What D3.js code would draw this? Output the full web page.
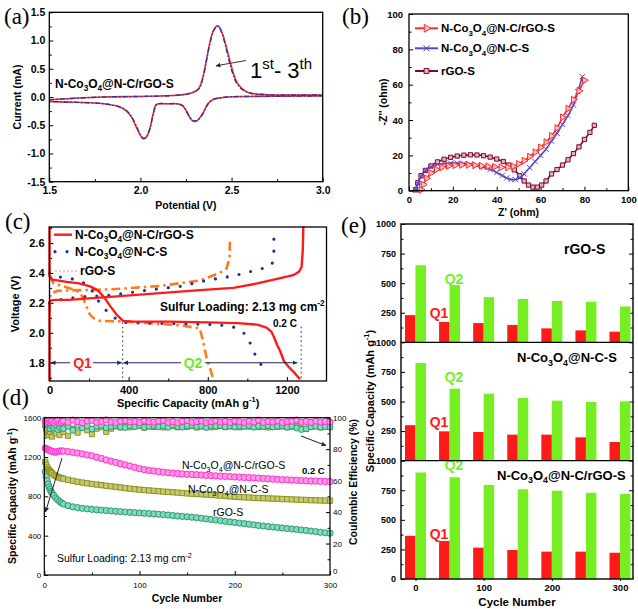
<!DOCTYPE html>
<html><head><meta charset="utf-8">
<script src="https://cdn.jsdelivr.net/npm/d3@7"></script>
<style>
body{margin:0;background:#fff}
svg{display:block}
text{font-family:"Liberation Sans",Arial,sans-serif}
.serif{font-family:"Liberation Serif","Times New Roman",serif}
</style>
</head><body><svg id="c" width="638" height="609"></svg>
<script>
// ---------------- DATA ----------------
// (a) CV
const cvCathV = [3.0,2.8,2.6,2.5,2.45,2.40,2.37,2.34,2.31,2.29,2.27,2.25,2.23,2.20,2.15,2.10,2.085,2.07,2.05,2.03,2.015,2.00,1.98,1.95,1.92,1.88,1.80,1.70,1.60,1.50];
const cvCathI1 = [0.02,0.015,0.01,0.005,-0.01,-0.04,-0.12,-0.30,-0.42,-0.43,-0.36,-0.24,-0.15,-0.12,-0.12,-0.12,-0.14,-0.30,-0.58,-0.72,-0.74,-0.68,-0.55,-0.35,-0.24,-0.17,-0.12,-0.10,-0.09,-0.08];
const cvCathI2 = [0.02,0.015,0.01,0.004,-0.012,-0.045,-0.13,-0.31,-0.42,-0.42,-0.35,-0.23,-0.15,-0.12,-0.12,-0.12,-0.15,-0.31,-0.58,-0.72,-0.73,-0.67,-0.53,-0.34,-0.23,-0.17,-0.12,-0.10,-0.09,-0.08];
const cvAnodV = [1.5,1.6,1.8,2.0,2.2,2.28,2.32,2.34,2.36,2.38,2.40,2.42,2.43,2.45,2.47,2.49,2.51,2.53,2.56,2.60,2.70,2.85,3.0];
const cvAnodI1 = [-0.05,-0.03,0.0,0.01,0.03,0.07,0.15,0.32,0.62,0.95,1.17,1.26,1.25,1.12,0.90,0.65,0.42,0.26,0.14,0.07,0.04,0.035,0.035];
const cvAnodI2 = [-0.05,-0.03,0.0,0.01,0.03,0.07,0.14,0.30,0.60,0.93,1.16,1.25,1.24,1.10,0.86,0.60,0.38,0.23,0.13,0.07,0.04,0.035,0.035];
const aXTicks = [1.5,2.0,2.5,3.0];
const aYTicks = [-1.5,-1.0,-0.5,0.0,0.5,1.0,1.5];

// (b) EIS
const bRedZre = [5.5,6.5,8,10,12.5,15,18,21,24,27,30,33,36,39,42,45,47.5,50,52.5,55,57.5,60,62.5,65,67.5,70,72.5,75,77.5,80];
const bRedZim = [0.5,3.5,7,10,12,13.3,14,14.4,14.6,14.6,14.4,14.1,13.8,13.5,13.2,13.2,13.8,15.2,17,19.3,21.8,24.5,27.5,31,35.5,41.5,46.5,51.5,56.5,62.5];
const bBlueZre = [3,4,5.5,7.5,10,13,16,19,22,25,28,31,34,37,40,42.5,44.5,46.5,48.5,50.5,52.5,55,57.5,60,62.5,65,67.5,70,72.5,75,77,79];
const bBlueZim = [0.3,4,8,11.3,13.5,14.8,15.4,15.6,15.6,15.4,15,14.3,13.3,12,10.3,8.6,7.2,6.3,6.3,7.3,9.5,13,16.5,20,23.5,28,32.5,37.5,42.5,48.5,56,64.5];
const bMarZre = [3,4,5.5,7.5,10,13,16,19,22,25,28,31,34,37,40,43,45.5,48,50.5,52.5,54.5,56.5,58.5,60.5,62.5,65,67.5,70,72.5,75,77.5,80,82.5,84.5];
const bMarZim = [0.5,4.5,8.5,11.5,14,16.3,17.8,18.9,19.6,20.1,20.3,20.2,19.8,19,17.9,16.5,14.5,11.8,8.5,5.5,3.2,2,2,3.2,5.5,9.5,12,14.5,17.5,21,24.8,29,33,37];
const bTicks = [0,20,40,60,80,100];

// (c) charge / discharge
const cRedDisCap = [0,0,15,87,150,205,235,255,280,306,340,372,420,600,800,950,1050,1097,1120,1135,1150,1165,1185,1210,1240,1266];
const cRedDisV   = [2.71,2.38,2.355,2.34,2.33,2.31,2.29,2.27,2.23,2.18,2.12,2.08,2.075,2.075,2.07,2.065,2.055,2.035,2.01,1.97,1.92,1.88,1.81,1.77,1.73,1.69];
const cRedChgCap = [0,0,3,30,100,200,306,558,760,929,1050,1150,1232,1262,1274,1280,1283];
const cRedChgV   = [1.68,2.19,2.215,2.22,2.22,2.23,2.24,2.265,2.285,2.30,2.33,2.36,2.385,2.41,2.44,2.55,2.71];
const cBlueDisCap = [0,20,129,180,213,255,306,365,500,700,850,937,997,1022,1047,1089];
const cBlueDisV   = [2.40,2.38,2.357,2.33,2.286,2.197,2.12,2.07,2.065,2.06,2.055,2.036,1.985,1.907,1.83,1.75];
const cBlueChgCap = [0,50,150,306,524,659,794,929,1047,1105,1125,1134,1134,1134];
const cBlueChgV   = [2.20,2.22,2.24,2.25,2.29,2.31,2.35,2.38,2.42,2.44,2.46,2.52,2.59,2.67];
const cOrDisCap = [0,20,70,120,154,180,205,230,255,400,550,659,760,777,794,812,828];
const cOrDisV   = [2.38,2.33,2.31,2.29,2.27,2.20,2.12,2.09,2.08,2.075,2.06,2.05,2.03,1.94,1.83,1.76,1.69];
const cOrChgCap = [0,5,40,150,306,558,760,860,895,910,912];
const cOrChgV   = [2.15,2.26,2.28,2.285,2.29,2.313,2.35,2.40,2.43,2.50,2.63];
const cXTicks = [0,400,800,1200];
const cYTicks = [1.8,2.0,2.2,2.4,2.6];
const cQ1Cap = 370, cQ2Cap = 1272;

// (d) cycling
const dCycles = [1,2,3,4,5,6,7,8,10,12,14,16,18,20,25,30,35,40,45,50,55,60,65,70,75,80,85,90,95,100,105,110,115,120,125,130,135,140,145,150,155,160,165,170,175,180,185,190,195,200,205,210,215,220,225,230,235,240,245,250,255,260,265,270,275,280,285,290,295,300];
const dCapRGONC = [1290,1285,1280,1275,1270,1265,1262,1258,1252,1250,1255,1260,1262,1260,1255,1248,1240,1232,1222,1212,1198,1185,1170,1158,1145,1132,1120,1108,1095,1082,1072,1064,1058,1052,1046,1040,1036,1032,1028,1025,1022,1020,1017,1014,1011,1008,1005,1003,1001,998,995,993,990,988,985,982,979,976,973,970,968,965,963,960,958,956,955,953,952,950];
const dCapNC = [1150,1120,1095,1075,1065,1055,1045,1035,1020,1008,998,990,985,980,968,958,948,940,933,926,920,914,908,902,896,890,884,878,873,868,864,860,856,852,848,845,842,838,834,830,827,824,821,818,815,812,808,804,800,796,793,790,788,785,783,781,779,777,775,773,771,769,767,765,763,761,760,758,757,756];
const dCapRGO = [1050,1000,960,925,895,870,850,835,810,785,765,748,735,722,705,693,685,678,673,668,664,660,656,652,648,645,641,637,634,631,628,625,621,618,614,610,605,600,596,592,588,583,577,571,565,559,553,546,540,534,528,522,516,510,504,498,493,488,483,478,473,468,463,458,453,447,441,435,430,425];
const dCERGONC = [97.5,96.8,97.9,97.2,98.3,96.9,97.6,98.1,97.0,97.8,98.4,96.7,97.3,98.0,97.1,98.5,97.4,96.8,97.9,98.2,97.0,97.6,98.6,97.2,96.9,97.8,98.1,97.3,97.7,96.9,98.0,97.4,97.1,97.9,98.3,97.0,97.5,96.8,97.7,98.2,97.1,97.6,97.9,96.9,97.4,98.1,97.2,97.7,97.0,98.0,97.5,96.9,97.8,97.2,98.4,97.0,97.6,97.3,98.0,96.9,97.5,97.8,98.5,97.1,97.6,97.0,97.9,97.3,97.6,97.2];
const dCENC = [95.0,93.0,92.0,90.0,89.0,91.0,93.0,88.0,92.0,90.0,94.0,89.0,93.0,91.0,88.5,93.0,90.5,94.0,92.0,89.5,93.0,94.0,91.0,93.0,94.5,93.8,94.6,93.9,94.4,94.8,93.7,94.5,94.1,94.9,93.8,94.3,94.7,93.9,94.5,94.2,94.8,93.8,94.4,94.6,93.9,94.3,94.8,94.0,94.5,94.2,93.9,94.6,94.3,94.8,94.0,94.4,93.8,94.7,94.2,94.5,93.9,94.3,94.6,93.2,92.8,94.1,94.5,93.8,94.2,94.0];
const dCERGO = [98.5,97.5,96.5,95.5,94.0,93.0,95.5,94.5,93.5,95.0,92.5,94.0,95.5,93.0,94.5,92.0,95.0,93.5,94.8,92.8,94.6,95.2,93.6,94.4,95.0,94.1,93.8,94.9,94.3,95.1,93.9,94.6,95.0,94.2,94.7,93.9,95.2,94.4,94.0,94.8,95.1,94.3,94.6,93.8,94.9,94.5,95.0,94.2,94.7,94.1,94.8,94.4,95.0,94.0,94.6,94.3,94.9,94.1,94.5,94.8,94.0,94.6,93.5,92.5,93.0,94.2,94.6,94.0,94.4,94.1];
const dXTicks = [0,100,200,300];
const dYTicks = [0,400,800,1200,1600];
const dCETicks = [0,20,40,60,80,100];

// (e) Q1 / Q2 bars
const eCycles = [0,50,100,150,200,250,300];
const eQ1RGO = [230,172,163,147,118,101,90];
const eQ2RGO = [652,483,382,366,349,343,303];
const eQ1NC = [300,248,242,220,220,197,158];
const eQ2NC = [825,609,566,530,507,496,501];
const eQ1RGONC = [365,321,265,245,231,231,222];
const eQ2RGONC = [900,860,795,758,746,729,718];
const eXTicks = [0,100,200,300];
const eYTicks = [250,500,750,1000];

// ---------------- HELPERS ----------------
const svg = d3.select('#c');
const defs = svg.append('defs');
function marker(id, color){
  defs.append('marker').attr('id',id).attr('viewBox','0 0 10 10').attr('refX',9).attr('refY',5)
    .attr('markerWidth',5).attr('markerHeight',5).attr('orient','auto-start-reverse')
    .append('path').attr('d','M0,0.5 L10,5 L0,9.5 z').attr('fill',color);
}
marker('arrK','#222'); marker('arrN','#1d2b5a');

function axis(gen, tr, ticks, fmt, size, fs, fw, pad){
  const g = svg.append('g').attr('transform',tr)
    .call(gen.tickValues(ticks).tickSize(size).tickFormat(fmt).tickPadding(pad));
  g.select('.domain').remove();
  g.selectAll('line').attr('stroke','#000').attr('stroke-width',1);
  g.selectAll('text').attr('font-size',fs).attr('font-weight',fw).attr('fill','#000');
  return g;
}
function frame(x0,y0,x1,y1,w){
  svg.append('rect').attr('x',x0).attr('y',y0).attr('width',x1-x0).attr('height',y1-y0)
    .attr('fill','none').attr('stroke','#000').attr('stroke-width',w||1.3);
}
function rich(x,y,parts,attrs){
  const t = svg.append('text').attr('x',x).attr('y',y);
  Object.entries(attrs).forEach(([k,v])=>t.attr(k,v));
  const fs = attrs['font-size'];
  let shift = 0;
  parts.forEach(p=>{
    const s = Array.isArray(p)?p[0]:p, m = Array.isArray(p)?p[1]:'';
    const want = m==='sub'?0.28:(m==='sup'?-0.42:0);
    const ts = t.append('tspan').text(s);
    const dy = (want-shift)*fs;
    if (Math.abs(dy)>0.001) ts.attr('dy',dy.toFixed(2));
    if (m) ts.attr('font-size',fs*0.68);
    shift = want;
  });
  return t;
}
const f1 = d=>d.toFixed(1);
const f0 = d=>String(d);
const zip = (a,b)=>a.map((v,i)=>[v,b[i]]);
function panelLabel(x,y,s){ svg.append('text').attr('class','serif').attr('x',x).attr('y',y).attr('font-size',23).text(s); }
function nameParts(tail){ return [['N-Co',''],['3','sub'],['O',''],['4','sub'],[tail,'']]; }

// ---------------- (a) ----------------
{
  const x = d3.scaleLinear([1.5,3.0],[49.3,322.7]);
  const y = d3.scaleLinear([-1.5,1.5],[181.7,12.3]);
  axis(d3.axisBottom(x),'translate(0,181.7)',aXTicks,f1,-4,10.5,'bold',5);
  axis(d3.axisBottom(x),'translate(0,181.7)',[1.75,2.25,2.75],()=>'',-2.5,10,'bold',5);
  axis(d3.axisLeft(y),'translate(49.3,0)',aYTicks,f1,-4,10.5,'bold',4);
  axis(d3.axisLeft(y),'translate(49.3,0)',[-1.25,-0.75,-0.25,0.25,0.75,1.25],()=>'',-2.5,10,'bold',4);
  const ln = d3.line().x(d=>x(d[0])).y(d=>y(d[1])).curve(d3.curveCatmullRom);
  [[cvCathI1,cvAnodI1,'#ff2a2a',null,1.6],[cvCathI2,cvAnodI2,'#2a35a0','5 2 1.5 2',1.4]].forEach(([c,a,col,da,w])=>{
    [zip(cvCathV,c),zip(cvAnodV,a)].forEach(d=>{
      svg.append('path').attr('d',ln(d)).attr('fill','none').attr('stroke',col).attr('stroke-width',w)
        .attr('stroke-dasharray',da);
    });
  });
  frame(49.3,12.3,322.7,181.7);
  svg.append('text').attr('x',-97).attr('y',21).attr('transform','rotate(-90)').attr('text-anchor','middle')
    .attr('font-size',10.5).attr('font-weight','bold').text('Current (mA)');
  svg.append('text').attr('x',186).attr('y',209).attr('text-anchor','middle')
    .attr('font-size',10.5).attr('font-weight','bold').text('Potential (V)');
  rich(55,87.5,nameParts('@N-C/rGO-S'),{'font-size':12,'font-weight':'bold'});
  rich(250,78,[['1',''],['st','sup'],['- 3',''],['th','sup']],{'font-size':22});
  svg.append('line').attr('x1',246).attr('y1',60.5).attr('x2',216).attr('y2',65.8)
    .attr('stroke','#333').attr('stroke-width',1).attr('marker-end','url(#arrK)');
  panelLabel(4,24,'(a)');
}

// ---------------- (b) ----------------
{
  const x = d3.scaleLinear([0,100],[409,628.3]);
  const y = d3.scaleLinear([0,100],[190.7,14]);
  axis(d3.axisBottom(x),'translate(0,190.7)',bTicks,f0,-4,9.5,'bold',6);
  axis(d3.axisBottom(x),'translate(0,190.7)',[10,30,50,70,90],()=>'',-2.5,9,'bold',5);
  axis(d3.axisLeft(y),'translate(409,0)',bTicks,f0,-4,9.5,'bold',6);
  axis(d3.axisLeft(y),'translate(409,0)',[10,30,50,70,90],()=>'',-2.5,9,'bold',5);
  const ln = d3.line().x(d=>x(d[0])).y(d=>y(d[1])).curve(d3.curveCatmullRom);
  const series = [
    {zr:bMarZre, zi:bMarZim, col:'#7a0a2a', fill:'#e8b0c0', sym:d3.symbolSquare, rot:0, size:18},
    {zr:bBlueZre, zi:bBlueZim, col:'#5b46c8', fill:'none', sym:d3.symbolTimes, rot:0, size:20},
    {zr:bRedZre, zi:bRedZim, col:'#ff2a2a', fill:'#ffc0c0', sym:d3.symbolTriangle, rot:90, size:20}
  ];
  series.forEach(s=>{
    const d = zip(s.zr,s.zi);
    svg.append('path').attr('d',ln(d)).attr('fill','none').attr('stroke',s.col).attr('stroke-width',1.6);
    svg.append('g').selectAll('path').data(d).join('path')
      .attr('d',d3.symbol(s.sym,s.size)())
      .attr('transform',p=>`translate(${x(p[0])},${y(p[1])}) rotate(${s.rot})`)
      .attr('fill',s.fill).attr('stroke',s.col).attr('stroke-width',1);
  });
  frame(409,14,628.3,190.7);
  const leg = [
    {yy:28.3, s:series[2], txt:nameParts('@N-C/rGO-S')},
    {yy:48.3, s:series[1], txt:nameParts('@N-C-S')},
    {yy:71, s:series[0], txt:[['rGO-S','']]}
  ];
  leg.forEach(l=>{
    svg.append('line').attr('x1',415).attr('x2',438).attr('y1',l.yy).attr('y2',l.yy).attr('stroke',l.s.col).attr('stroke-width',2);
    svg.append('path').attr('d',d3.symbol(l.s.sym,l.s.size+6)()).attr('transform',`translate(426.5,${l.yy}) rotate(${l.s.rot})`)
      .attr('fill',l.s.fill).attr('stroke',l.s.col).attr('stroke-width',1);
    rich(441,l.yy+4,l.txt,{'font-size':11.5,'font-weight':'bold'});
  });
  svg.append('text').attr('x',518.5).attr('y',216).attr('text-anchor','middle')
    .attr('font-size',10.5).attr('font-weight','bold').text("Z' (ohm)");
  svg.append('text').attr('x',-102).attr('y',387).attr('transform','rotate(-90)').attr('text-anchor','middle')
    .attr('font-size',10.5).attr('font-weight','bold').text("-Z'' (ohm)");
  panelLabel(342,24,'(b)');
}

// ---------------- (c) ----------------
{
  const x = d3.scaleLinear([0,1400],[49.5,326.5]);
  const y = d3.scaleLinear([1.678,2.707],[381,227]);
  axis(d3.axisBottom(x),'translate(0,381)',cXTicks,f0,-4,11,'bold',5);
  axis(d3.axisBottom(x),'translate(0,381)',[200,600,1000],()=>'',-2.5,10,'bold',5);
  axis(d3.axisLeft(y),'translate(49.5,0)',cYTicks,f1,-4,11,'bold',5);
  axis(d3.axisLeft(y),'translate(49.5,0)',[1.7,1.9,2.1,2.3,2.5,2.7],()=>'',-2.5,10,'bold',5);
  const ln = d3.line().x(d=>x(d[0])).y(d=>y(d[1])).curve(d3.curveLinear);
  svg.append('line').attr('x1',x(cQ1Cap)).attr('x2',x(cQ1Cap)).attr('y1',y(2.07)).attr('y2',381)
    .attr('stroke','#222').attr('stroke-width',1).attr('stroke-dasharray','1.5 3');
  svg.append('line').attr('x1',x(cQ2Cap)).attr('x2',x(cQ2Cap)).attr('y1',y(2.04)).attr('y2',381)
    .attr('stroke','#222').attr('stroke-width',1).attr('stroke-dasharray','1.5 3');
  [zip(cOrDisCap,cOrDisV),zip(cOrChgCap,cOrChgV)].forEach(d=>{
    svg.append('path').attr('d',ln(d)).attr('fill','none').attr('stroke','#ff7a1f').attr('stroke-width',2.6)
      .attr('stroke-dasharray','9 4 2.5 4');
  });
  [zip(cBlueDisCap,cBlueDisV),zip(cBlueChgCap,cBlueChgV)].forEach(d=>{
    svg.append('path').attr('d',ln(d)).attr('fill','none').attr('stroke','#1f2fa0').attr('stroke-width',3.2)
      .attr('stroke-linecap','round').attr('stroke-dasharray','0 12');
  });
  [zip(cRedDisCap,cRedDisV),zip(cRedChgCap,cRedChgV)].forEach(d=>{
    svg.append('path').attr('d',ln(d)).attr('fill','none').attr('stroke','#ff1a1a').attr('stroke-width',2.4)
      .attr('stroke-linejoin','round');
  });
  frame(49.5,227,326.5,381);
  const yq = y(1.8);
  const arr = (x1,x2)=>svg.append('line').attr('x1',x1).attr('x2',x2).attr('y1',yq).attr('y2',yq)
    .attr('stroke','#1d2b5a').attr('stroke-width',1).attr('marker-end','url(#arrN)');
  arr(70,51); arr(93,x(cQ1Cap)-1); arr(181,x(cQ1Cap)+1); arr(205,x(cQ2Cap)-4);
  svg.append('text').attr('x',82.5).attr('y',yq+5).attr('text-anchor','middle').attr('font-size',14)
    .attr('font-weight','bold').attr('fill','#ff2020').text('Q1');
  svg.append('text').attr('x',193).attr('y',yq+5).attr('text-anchor','middle').attr('font-size',14)
    .attr('font-weight','bold').attr('fill','#6fe62a').text('Q2');
  svg.append('line').attr('x1',54).attr('x2',72).attr('y1',234.7).attr('y2',234.7).attr('stroke','#ff1a1a').attr('stroke-width',2.4);
  rich(75,239,nameParts('@N-C/rGO-S'),{'font-size':12,'font-weight':'bold'});
  svg.append('line').attr('x1',55).attr('x2',72).attr('y1',251.7).attr('y2',251.7).attr('stroke','#1f2fa0')
    .attr('stroke-width',3.2).attr('stroke-linecap','round').attr('stroke-dasharray','0 12');
  rich(75,256,nameParts('@N-C-S'),{'font-size':12,'font-weight':'bold'});
  svg.append('line').attr('x1',55).attr('x2',78).attr('y1',271).attr('y2',271).attr('stroke','#ff8a8a')
    .attr('stroke-width',1).attr('stroke-dasharray','2 2');
  svg.append('text').attr('x',80).attr('y',275).attr('font-size',12).attr('font-weight','bold').text('rGO-S');
  rich(160,311,[['Sulfur Loading: 2.13 mg cm',''],['-2','sup']],{'font-size':12,'font-weight':'bold'});
  svg.append('text').attr('x',273).attr('y',326.5).attr('font-size',10).attr('font-weight','bold').text('0.2 C');
  svg.append('text').attr('x',-304).attr('y',19).attr('transform','rotate(-90)').attr('text-anchor','middle')
    .attr('font-size',11).attr('font-weight','bold').text('Voltage (V)');
  rich(117,407,[['Specific Capacity (mAh g',''],['-1','sup'],[')','']],{'font-size':11,'font-weight':'bold'});
  panelLabel(5,229,'(c)');
}

// ---------------- (d) ----------------
{
  const x = d3.scaleLinear([0,300],[44.3,330]);
  const y = d3.scaleLinear([0,1600],[575,417.7]);
  const yr = d3.scaleLinear([0,100],[575,417.7]);
  axis(d3.axisBottom(x),'translate(0,575)',dXTicks,f0,-4,8,'normal',7);
  axis(d3.axisBottom(x),'translate(0,575)',[50,150,250],()=>'',-2.5,8,'normal',5);
  axis(d3.axisLeft(y),'translate(44.3,0)',dYTicks,f0,-4,8,'normal',3);
  axis(d3.axisLeft(y),'translate(44.3,0)',[200,600,1000,1400],()=>'',-2.5,8,'normal',3);
  axis(d3.axisRight(yr),'translate(330,0)',dCETicks.filter(v=>v>0),f0,-4,8,'normal',3);
  axis(d3.axisRight(yr),'translate(330,0)',[10,30,50,70,90],()=>'',-2.5,8,'normal',3);
  svg.append('text').attr('x',333).attr('y',574).attr('font-size',8).text(f0(dCETicks[0]));
  const sets = [
    {v:dCENC, sc:yr, col:'#8a9420', fill:'#c9c870', sym:d3.symbolSquare, size:26},
    {v:dCERGO, sc:yr, col:'#259a74', fill:'#86d9b8', sym:d3.symbolCircle, size:28},
    {v:dCERGONC, sc:yr, col:'#ff30cc', fill:'#ff99e6', sym:d3.symbolCircle, size:30},
    {v:dCapRGO, sc:y, col:'#259a74', fill:'#86d9b8', sym:d3.symbolCircle, size:30},
    {v:dCapNC, sc:y, col:'#8a9420', fill:'#c9c870', sym:d3.symbolSquare, size:28},
    {v:dCapRGONC, sc:y, col:'#ff30cc', fill:'#ff99e6', sym:d3.symbolCircle, size:32}
  ];
  sets.forEach(s=>{
    const d = zip(dCycles,s.v);
    svg.append('g').selectAll('path').data(d).join('path')
      .attr('d',d3.symbol(s.sym,s.size)())
      .attr('transform',p=>`translate(${x(p[0])},${s.sc(p[1])})`)
      .attr('fill',s.fill).attr('stroke',s.col).attr('stroke-width',1);
  });
  frame(44.3,417.7,330,575,1.2);
  svg.append('line').attr('x1',62).attr('y1',458).attr('x2',45.5).attr('y2',512)
    .attr('stroke','#222').attr('stroke-width',1).attr('marker-end','url(#arrK)');
  svg.append('line').attr('x1',301).attr('y1',436).attr('x2',326).attr('y2',445.5)
    .attr('stroke','#222').attr('stroke-width',1).attr('marker-end','url(#arrK)');
  rich(182,469,nameParts('@N-C/rGO-S'),{'font-size':10.5});
  rich(188,493,nameParts('@N-C-S'),{'font-size':10.5});
  svg.append('text').attr('x',213).attr('y',515.5).attr('font-size',10.5).text('rGO-S');
  svg.append('text').attr('x',302).attr('y',474).attr('font-size',9.5).attr('font-weight','bold').text('0.2 C');
  rich(57,562,[['Sulfur Loading: 2.13 mg cm',''],['-2','sup']],{'font-size':10.5});
  svg.append('text').attr('x',187).attr('y',602).attr('text-anchor','middle')
    .attr('font-size',10.5).attr('font-weight','bold').text('Cycle Number');
  rich(0,0,[['Specific Capacity (mAh g',''],['-1','sup'],[')','']],{'font-size':10.5,'font-weight':'bold'})
    .attr('transform','translate(16,496) rotate(-90)').attr('text-anchor','middle');
  svg.append('text').attr('transform','translate(357,482) rotate(-90)').attr('text-anchor','middle')
    .attr('font-size',10.5).attr('font-weight','bold').text('Coulombic Efficiency (%)');
  panelLabel(2,405,'(d)');
}

// ---------------- (e) ----------------
{
  const top = 224, bot = 579, h = (bot-top)/3;
  const x = d3.scaleLinear([0,300],[415.5,620]);
  const bw = 10.5;
  const panels = [
    {q1:eQ1RGO, q2:eQ2RGO, name:[['rGO-S','']], nx:564, ny:254, q1y:318, q2y:284},
    {q1:eQ1NC, q2:eQ2NC, name:nameParts('@N-C-S'), nx:517, ny:362, q1y:427, q2y:382},
    {q1:eQ1RGONC, q2:eQ2RGONC, name:nameParts('@N-C/rGO-S'), nx:497, ny:479.5, q1y:539, q2y:470}
  ];
  panels.forEach((p,i)=>{
    const y = d3.scaleLinear([0,1000],[top+(i+1)*h, top+i*h]);
    const ticks = i===2 ? [0].concat(eYTicks) : eYTicks;
    axis(d3.axisLeft(y),`translate(401,0)`,ticks,f0,-4,9,'bold',5);
    axis(d3.axisLeft(y),`translate(401,0)`,[125,375,625,875],()=>'',-2.5,9,'bold',5);
    axis(d3.axisRight(y),`translate(633,0)`,eYTicks,()=>'',-4,9,'bold',5);
    axis(d3.axisRight(y),`translate(633,0)`,[125,375,625,875],()=>'',-2.5,9,'bold',5);
    svg.append('g').selectAll('rect').data(eCycles).join('rect')
      .attr('x',c=>x(c)-bw).attr('width',bw).attr('y',(c,j)=>y(p.q1[j])).attr('height',(c,j)=>y(0)-y(p.q1[j]))
      .attr('fill','#ff1a1a');
    svg.append('g').selectAll('rect').data(eCycles).join('rect')
      .attr('x',c=>x(c)).attr('width',bw).attr('y',(c,j)=>y(p.q2[j])).attr('height',(c,j)=>y(0)-y(p.q2[j]))
      .attr('fill','#77ee22');
    rich(p.nx,p.ny,p.name,{'font-size':i===0?14:13,'font-weight':'bold'});
    svg.append('text').attr('x',439).attr('y',p.q1y).attr('text-anchor','middle').attr('font-size',14)
      .attr('font-weight','bold').attr('fill','#ff1a1a').text('Q1');
    svg.append('text').attr('x',454).attr('y',p.q2y).attr('text-anchor','middle').attr('font-size',14)
      .attr('font-weight','bold').attr('fill','#77ee22').text('Q2');
  });
  axis(d3.axisBottom(x),`translate(0,${bot})`,eXTicks,f0,2,9.5,'bold',3);
  frame(401,top,633,bot,1.4);
  svg.append('line').attr('x1',401).attr('x2',633).attr('y1',top+h).attr('y2',top+h).attr('stroke','#000').attr('stroke-width',1.4);
  svg.append('line').attr('x1',401).attr('x2',633).attr('y1',top+2*h).attr('y2',top+2*h).attr('stroke','#000').attr('stroke-width',1.4);
  svg.append('text').attr('x',517).attr('y',606).attr('text-anchor','middle')
    .attr('font-size',11.5).attr('font-weight','bold').text('Cycle Number');
  rich(0,0,[['Specific Capacity (mAh g',''],['-1','sup'],[')','']],{'font-size':11,'font-weight':'bold'})
    .attr('transform','translate(374,401) rotate(-90)').attr('text-anchor','middle');
  panelLabel(341,233,'(e)');
}
</script></body></html>
